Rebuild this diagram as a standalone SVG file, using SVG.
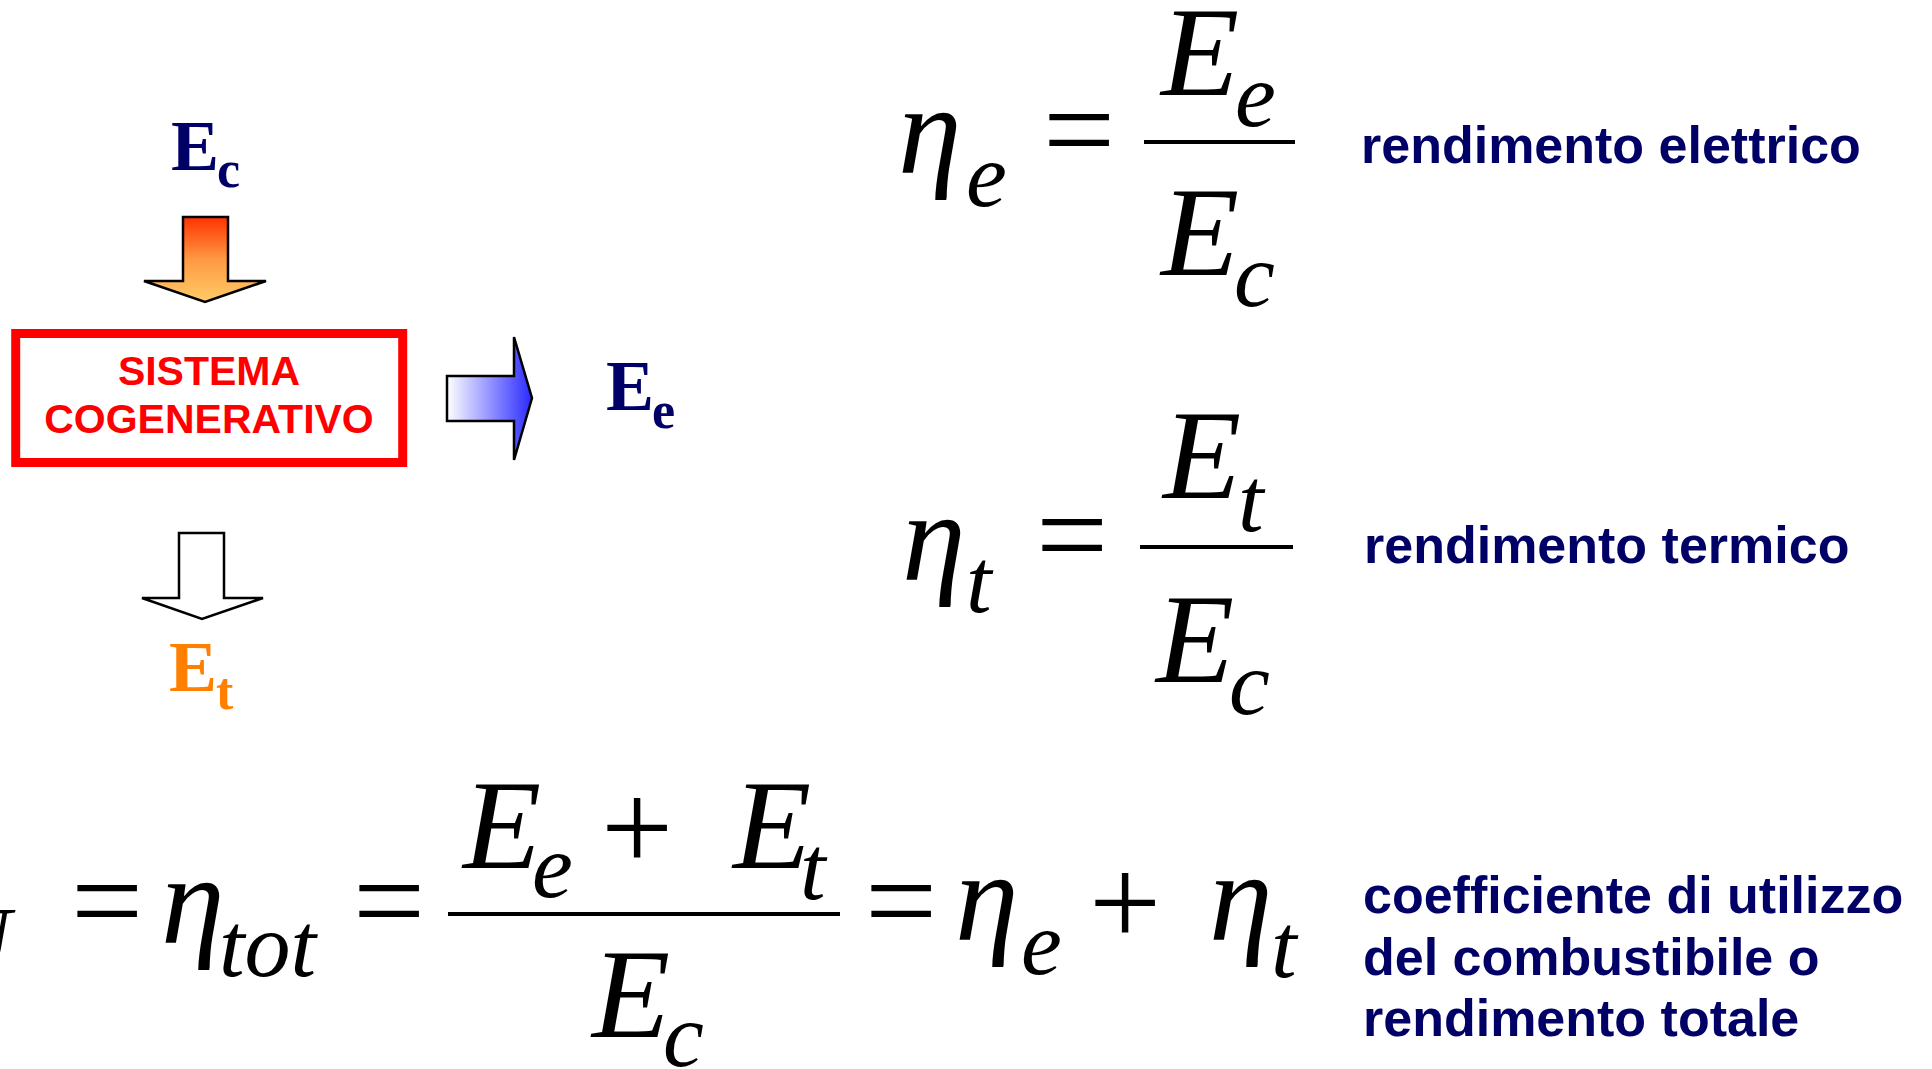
<svg xmlns="http://www.w3.org/2000/svg" width="1932" height="1069" viewBox="0 0 1932 1069">
<style>
.lbl{font-family:"Liberation Serif","Times New Roman",serif;font-weight:bold;}
.m{font-family:"Liberation Serif","Times New Roman",serif;font-style:italic;font-size:128px;fill:#000;}
.s{font-family:"Liberation Serif","Times New Roman",serif;font-style:italic;font-size:92px;fill:#000;}
.op{font-family:"Liberation Serif","Times New Roman",serif;font-size:128px;fill:#000;}
.desc{font-family:"Liberation Sans",Arial,sans-serif;font-weight:bold;font-size:52px;fill:#000066;}
.bar{stroke:#000;stroke-width:4;}
.arrow{stroke:#000;stroke-width:2.5;stroke-linejoin:miter;}
</style>
<defs>
<linearGradient id="gOrange" x1="0" y1="0" x2="0" y2="1">
<stop offset="0" stop-color="#ff3300"/>
<stop offset="0.5" stop-color="#ff9944"/>
<stop offset="1" stop-color="#ffcc66"/>
</linearGradient>
<linearGradient id="gBlue" x1="0" y1="0" x2="1" y2="0">
<stop offset="0" stop-color="#ffffff"/>
<stop offset="1" stop-color="#2a2aff"/>
</linearGradient>
</defs>
<rect width="1932" height="1069" fill="#ffffff"/>

<g id="node-Ec">
<text class="lbl" x="171" y="170" font-size="72" fill="#000066">E</text>
<text class="lbl" x="217" y="187" font-size="52" fill="#000066">c</text>
</g>

<g id="node-sistema">
<rect x="15.7" y="333.5" width="387" height="129" fill="#ffffff" stroke="#ff0000" stroke-width="9"/>
<text x="209" y="385" text-anchor="middle" font-family="Liberation Sans, Arial, sans-serif" font-weight="bold" font-size="41" fill="#ff0000">SISTEMA</text>
<text x="209" y="433" text-anchor="middle" font-family="Liberation Sans, Arial, sans-serif" font-weight="bold" font-size="41" fill="#ff0000">COGENERATIVO</text>
</g>

<g id="node-Ee">
<text class="lbl" x="606" y="410" font-size="72" fill="#000066">E</text>
<text class="lbl" x="652" y="428" font-size="52" fill="#000066">e</text>
</g>

<g id="node-Et">
<text class="lbl" x="169" y="691" font-size="72" fill="#ff8000">E</text>
<text class="lbl" x="216" y="709" font-size="52" fill="#ff8000">t</text>
</g>

<g id="connectors">
<polygon class="arrow" fill="url(#gOrange)" points="183,217 228,217 228,281 266,281 205,302 144,281 183,281"/>
<polygon class="arrow" fill="url(#gBlue)" points="447,376 514,376 514,337 532,398 514,460 514,421 447,421"/>
<polygon class="arrow" fill="#ffffff" points="179,533 224,533 224,598 263,598 202,619 142,598 179,598"/>
</g>

<g id="formula-eta-e">
<text class="m" x="898" y="173">η</text>
<text class="s" x="966" y="206">e</text>
<text class="op" x="1043" y="172">=</text>
<line class="bar" x1="1144" y1="142" x2="1295" y2="142"/>
<text class="m" x="1161" y="95">E</text>
<text class="s" x="1235" y="126">e</text>
<text class="m" x="1161" y="275">E</text>
<text class="s" x="1234" y="306">c</text>
<text class="desc" x="1361" y="163">rendimento elettrico</text>
</g>

<g id="formula-eta-t">
<text class="m" x="902" y="580">η</text>
<text class="s" x="966" y="612">t</text>
<text class="op" x="1036" y="577">=</text>
<line class="bar" x1="1140" y1="547" x2="1293" y2="547"/>
<text class="m" x="1163" y="498">E</text>
<text class="s" x="1238" y="531">t</text>
<text class="m" x="1156" y="682">E</text>
<text class="s" x="1229" y="714">c</text>
<text class="desc" x="1364" y="563">rendimento termico</text>
</g>

<g id="formula-total">
<text class="s" x="-56" y="970">U</text>
<text class="op" x="71" y="943">=</text>
<text class="m" x="161" y="943">η</text>
<text class="s" x="219" y="976">tot</text>
<text class="op" x="353" y="943">=</text>
<line class="bar" x1="448" y1="914" x2="840" y2="914"/>
<text class="m" x="463" y="868">E</text>
<text class="s" x="532" y="897">e</text>
<text class="op" x="601" y="870">+</text>
<text class="m" x="733" y="868">E</text>
<text class="s" x="800" y="899">t</text>
<text class="m" x="592" y="1037">E</text>
<text class="s" x="663" y="1066">c</text>
<text class="op" x="865" y="943">=</text>
<text class="m" x="955" y="940">η</text>
<text class="s" x="1021" y="974">e</text>
<text class="op" x="1089" y="945">+</text>
<text class="m" x="1209" y="940">η</text>
<text class="s" x="1271" y="977">t</text>
<text class="desc" x="1363" y="913">coefficiente di utilizzo</text>
<text class="desc" x="1363" y="975">del combustibile o</text>
<text class="desc" x="1363" y="1036">rendimento totale</text>
</g>
</svg>
